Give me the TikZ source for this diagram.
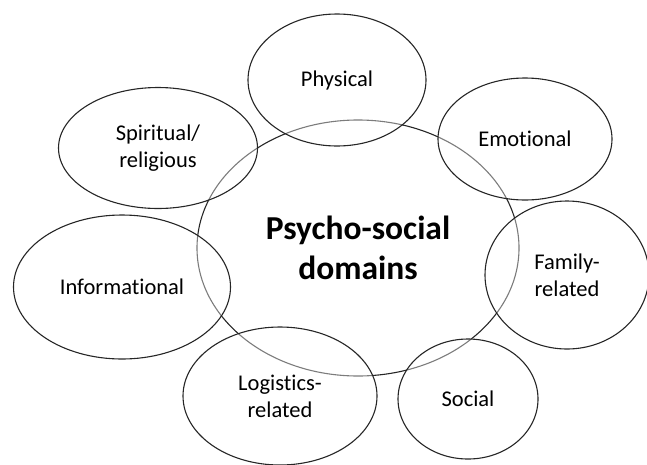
\documentclass[tikz,border=0pt]{standalone}
\usepackage{fontspec}
\setmainfont{Carlito}[Ligatures=NoCommon]
\usetikzlibrary{shapes.geometric,positioning}
\tikzstyle{domainbox}=[
	ellipse,
	draw=black!85,
	line width=1.1pt,
	fill=white,
	fill opacity=0.4,
	text opacity=1,
	inner sep=0pt,
	align=center,
	font=\fontsize{22.5}{27}\selectfont
]
\tikzstyle{corebox}=[
	domainbox,
	font=\fontsize{33.5}{40}\selectfont\bfseries
]

\begin{document}
\begin{tikzpicture}[x=1pt,y=-1pt,on grid]
\useasboundingbox (0,0) rectangle (647,464);
\clip (0,0) rectangle (647,464);
\node [corebox, minimum width=322pt, minimum height=256pt] (psychosocial) at (358,248) {Psycho-social\\domains};
\node [domainbox, minimum width=178pt, minimum height=132pt] (physical)[above left=168pt and 21pt of psychosocial] {Physical};
\node [domainbox, minimum width=174pt, minimum height=122pt] (emotional)[above right=109pt and 167pt of psychosocial] {Emotional};
\node [domainbox, minimum width=164pt, minimum height=148pt] (family)[below right=27pt and 209pt of psychosocial] {Family-\\related};
\node [domainbox, minimum width=140pt, minimum height=120pt] (social)[below right=151pt and 110pt of psychosocial] {Social};
\node [domainbox, minimum width=194pt, minimum height=138pt] (logistics)[below left=148pt and 78pt of psychosocial] {Logistics-\\related};
\node [domainbox, minimum width=217pt, minimum height=144pt] (informational)[below left=39pt and 236pt of psychosocial] {Informational};
\node [domainbox, minimum width=199pt, minimum height=121pt] (spiritual)[above left=100pt and 200pt of psychosocial] {Spiritual/\\religious};
\end{tikzpicture}
\end{document}
